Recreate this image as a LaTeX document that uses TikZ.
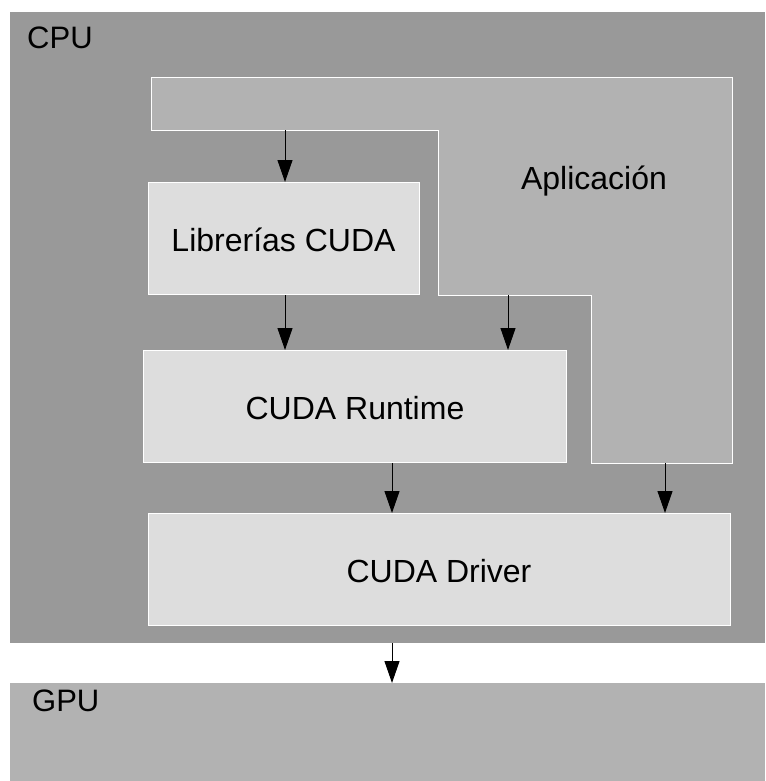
\documentclass[tikz,border=0pt]{standalone}
\usepackage{fontspec}
\setmainfont{Liberation Sans}
\usetikzlibrary{positioning, arrows.meta}
\definecolor{grisfonce}{RGB}{153,153,153}
\definecolor{grismoyen}{RGB}{178,178,178}
\definecolor{grisclair}{RGB}{221,221,221}

\begin{document}
\begin{tikzpicture}[x=1pt, y=-1pt]
		\tikzstyle{fleche}=[-{Triangle[length=22pt,width=15pt]}, line width=1pt]
		\tikzstyle{couche}=[anchor=north west, inner sep=0pt, fill=grisclair,
		  draw=white, line width=1pt]
		\tikzstyle{texte}=[font=\fontsize{32}{38}\selectfont]
		\tikzstyle{titre}=[anchor=west, inner sep=0pt, font=\fontsize{31}{37}\selectfont]
                \useasboundingbox (0,0) rectangle (765,781);
                \fill[white] (0,0) rectangle (765,781);
                % blocs CPU et GPU
                \node[anchor=north west, inner sep=0pt, fill=grisfonce,
                  minimum width=755pt, minimum height=631pt] (cpu) at (10,12) {};
                \node[titre] (cputxt) at (27,38) {CPU};
                \node[anchor=north west, inner sep=0pt, fill=grismoyen,
                  minimum width=755pt, minimum height=98pt] (gpu) at (10,683) {};
                \node[titre] (gputxt) at (32,701) {GPU};
                % application (forme en L)
                \filldraw[fill=grismoyen, draw=white, line width=1pt] (151,78) --
                (732,78) -- (732,463) -- (591,463) -- (591,295) -- (438,295) --
                (438,130) -- (151,130) -- cycle;
                \node[texte] (app) at (594,181) {Aplicaci\'on};
                % couches
                \node[couche, minimum width=271pt, minimum height=112pt] (lib)
                  at (148,182) {};
                \node[texte] (libtxt) at (283.5,240) {Librer\'ias CUDA};
                \node[couche, minimum width=423pt, minimum height=112pt] (rt)
                  at (143,350) {};
                \node[texte] (rttxt) at (355,408) {CUDA Runtime};
                \node[couche, minimum width=582pt, minimum height=112pt] (drv)
                  at (148,513) {};
                \node[texte] (drvtxt) at (439,571) {CUDA Driver};
                % fleches
                \coordinate (a1) at (285,130); \coordinate (a2) at (508,295);
                \coordinate (a3) at (392,463); \coordinate (a4) at (665,463);
                \coordinate (a5) at (392,643);
                \draw[fleche] (a1) -- (a1 |- lib.north);
                \draw[fleche] (lib.south -| a1) -- (a1 |- rt.north);
                \draw[fleche] (a2) -- (a2 |- rt.north);
                \draw[fleche] (a3) -- (a3 |- drv.north);
                \draw[fleche] (a4) -- (a4 |- drv.north);
                \draw[fleche] (a5) -- (a5 |- gpu.north);
	\end{tikzpicture}
\end{document}
